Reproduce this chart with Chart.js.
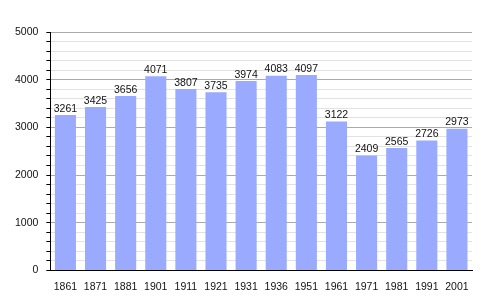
<!DOCTYPE html>
<html>
<head>
<meta charset="utf-8">
<script src="https://cdn.jsdelivr.net/npm/chart.js@4"></script>
<style>
  html, body { margin: 0; padding: 0; background: #fff; }
  #wrap { width: 500px; height: 300px; }
</style>
</head>
<body>
<div id="wrap"><canvas id="myChart"></canvas></div>
<script>
const years = ['1861', '1871', '1881', '1901', '1911', '1921', '1931', '1936', '1951', '1961', '1971', '1981', '1991', '2001'];
const population = [3261, 3425, 3656, 4071, 3807, 3735, 3974, 4083, 4097, 3122, 2409, 2565, 2726, 2973];
const yMax = 5000;

// draw the value above each bar
const valueLabels = {
    id: 'valueLabels',
    afterDatasetsDraw(chart) {
        const ctx = chart.ctx;
        const meta = chart.getDatasetMeta(0);
        ctx.save();
        ctx.font = '10.5px "Liberation Sans", Arial, sans-serif';
        ctx.fillStyle = '#111';
        ctx.textAlign = 'center';
        ctx.textBaseline = 'bottom';
        meta.data.forEach(function(bar, i) {
            ctx.fillText(population[i], bar.x, bar.y - 1);
        });
        ctx.restore();
    }
};

const ctx = document.getElementById('myChart').getContext('2d');

new Chart(ctx, {
    type: 'bar',
    data: {
        labels: years,
        datasets: [{
            data: population,
            backgroundColor: '#9aabff',
            borderWidth: 0,
            categoryPercentage: 1.0,
            barPercentage: 0.7
        }]
    },
    options: {
        responsive: true,
        maintainAspectRatio: false,
        animation: false,
        layout: {
            padding: { top: 32, right: 28, left: 7, bottom: 5 }
        },
        plugins: {
            legend: { display: false },
            tooltip: { enabled: false }
        },
        scales: {
            x: {
                grid: { display: false },
                border: { color: '#000', width: 1 },
                ticks: {
                    color: '#111',
                    font: { size: 10.5, family: '"Liberation Sans", Arial, sans-serif' },
                    maxRotation: 0,
                    autoSkip: false,
                    padding: 2
                }
            },
            y: {
                min: 0,
                max: yMax,
                border: { color: '#000', width: 1 },
                grid: {
                    color: function(c) {
                        if (c.tick && c.tick.value === 0) return 'rgba(0,0,0,0)';
                        return c.tick && c.tick.value % 1000 === 0 ? '#aaaaaa' : '#e2e2e2';
                    },
                    tickColor: '#000',
                    tickLength: 4,
                    drawTicks: true
                },
                ticks: {
                    stepSize: 200,
                    autoSkip: false,
                    color: '#111',
                    font: { size: 10.5, family: '"Liberation Sans", Arial, sans-serif' },
                    padding: 8,
                    callback: function(value) {
                        return value % 1000 === 0 ? value : '';
                    }
                }
            }
        }
    },
    plugins: [valueLabels]
});
</script>
</body>
</html>
